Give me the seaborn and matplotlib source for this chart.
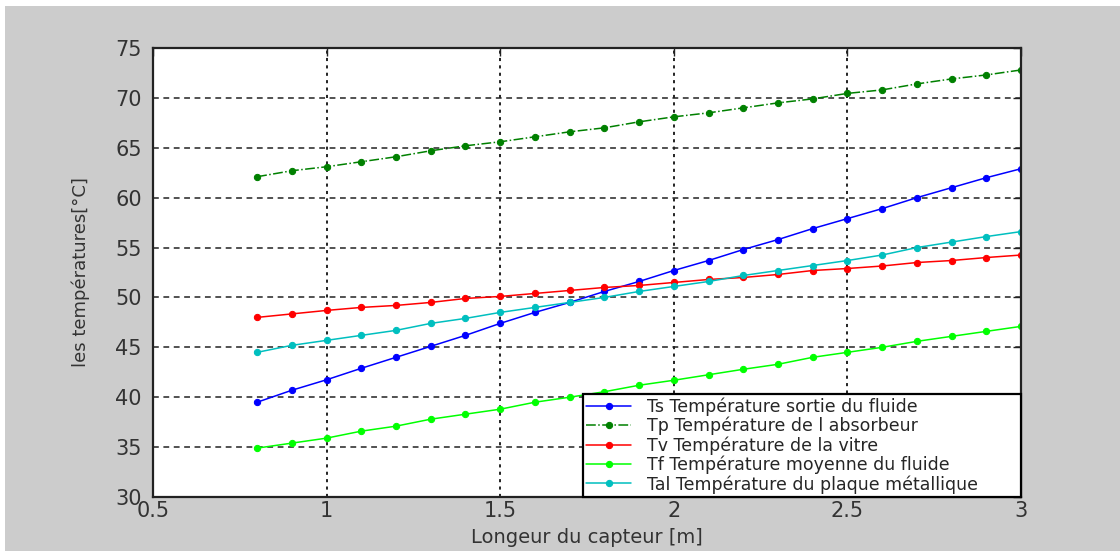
import numpy as np
import pandas as pd
import matplotlib
matplotlib.use("Agg")
import matplotlib.pyplot as plt
from matplotlib.patches import Rectangle
import seaborn as sns

# Collector length [m]
longueur = [0.8, 0.9, 1.0, 1.1, 1.2, 1.3, 1.4, 1.5, 1.6, 1.7, 1.8, 1.9,
            2.0, 2.1, 2.2, 2.3, 2.4, 2.5, 2.6, 2.7, 2.8, 2.9, 3.0]

# Temperatures [°C]
ts = [39.5, 40.7, 41.75, 42.9, 44.0, 45.1, 46.2, 47.4, 48.5, 49.5, 50.6, 51.6,
      52.7, 53.7, 54.8, 55.8, 56.9, 57.9, 58.9, 60.0, 61.0, 62.0, 62.9]
tp = [62.1, 62.7, 63.1, 63.6, 64.1, 64.7, 65.2, 65.6, 66.1, 66.6, 67.0, 67.6,
      68.1, 68.5, 69.0, 69.5, 69.9, 70.45, 70.8, 71.4, 71.9, 72.3, 72.8]
tv = [48.0, 48.35, 48.7, 49.0, 49.2, 49.5, 49.9, 50.1, 50.4, 50.7, 51.0, 51.2,
      51.5, 51.8, 52.0, 52.3, 52.7, 52.9, 53.15, 53.5, 53.7, 54.0, 54.25]
tf = [34.9, 35.4, 35.9, 36.6, 37.1, 37.8, 38.3, 38.8, 39.5, 40.0, 40.55, 41.2,
      41.7, 42.25, 42.8, 43.3, 44.0, 44.5, 45.0, 45.6, 46.1, 46.6, 47.1]
tal = [44.5, 45.2, 45.7, 46.2, 46.7, 47.4, 47.9, 48.5, 49.0, 49.5, 50.0, 50.6,
       51.1, 51.6, 52.2, 52.7, 53.2, 53.7, 54.25, 55.0, 55.55, 56.1, 56.6]

labels = ["Ts Température sortie du fluide",
          "Tp Température de l absorbeur",
          "Tv Température de la vitre",
          "Tf Température moyenne du fluide",
          "Tal Température du plaque métallique"]
series = [ts, tp, tv, tf, tal]
colors = ["#0000ff", "#008000", "#ff0000", "#00ff00", "#00bfbf"]
styles = ["-", "-.", "-", "-", "-"]

xticks = [0.5, 1, 1.5, 2, 2.5, 3]
xticklabels = ["0.5", "1", "1.5", "2", "2.5", "3"]
yticks = [30, 35, 40, 45, 50, 55, 60, 65, 70, 75]

sns.set_theme(style="white")
plt.rcParams["font.family"] = ["DejaVu Sans"]

fig = plt.figure(figsize=(11.2, 5.51), dpi=100)
fig.patch.set_facecolor("white")
fig.patches.append(Rectangle((5 / 1120, 0), 1, 1 - 6 / 551,
                             transform=fig.transFigure, facecolor="#cccccc",
                             edgecolor="none", zorder=-10))

ax = fig.add_axes([153 / 1120, 1 - 497 / 551, (1021 - 153) / 1120, (497 - 48) / 551])
ax.set_facecolor("white")

for vals, lab, col, ls in zip(series, labels, colors, styles):
    df = pd.DataFrame({"x": longueur, "y": vals})
    sns.lineplot(data=df, x="x", y="y", ax=ax, color=col, linestyle=ls,
                 linewidth=1.1, marker="o", markersize=4.5,
                 markeredgecolor=col, markerfacecolor=col, label=lab)

ax.set_xlim(0.5, 3)
ax.set_ylim(30, 75)
ax.set_xticks(xticks)
ax.set_xticklabels(xticklabels)
ax.set_yticks(yticks)

# Grid: dotted verticals, dashed horizontals
for xv in xticks[1:-1]:
    ax.axvline(xv, color="#222222", linestyle=(0, (1.6, 2.2)), linewidth=1.4, zorder=0.5)
for yv in yticks[1:-1]:
    ax.axhline(yv, color="#222222", linestyle=(0, (3.8, 3.0)), linewidth=1.1, zorder=0.5)

for s in ax.spines.values():
    s.set_visible(True)
    s.set_color("#222222")
    s.set_linewidth(1.6)

ax.tick_params(axis="both", direction="in", length=6, width=1, colors="#222222",
               labelsize=15, top=True, right=True, labelcolor="#333333")
ax.tick_params(axis="y", pad=8)
ax.tick_params(axis="x", pad=3)

ax.set_xlabel("Longeur du capteur [m]", fontsize=14, color="#333333", labelpad=5)
ax.set_ylabel("les températures[°C]", fontsize=13, color="#333333", labelpad=18)

leg = ax.legend(loc="lower left", bbox_to_anchor=(0.495, 0.0, 0.505, 0.2),
                mode="expand", fontsize=12.5, frameon=True, fancybox=False,
                edgecolor="black", framealpha=1, borderaxespad=0,
                handlelength=2.6, labelspacing=0.05, borderpad=0.2,
                handletextpad=0.9)
leg.get_frame().set_linewidth(1.6)

fig.savefig("out.png", dpi=100, facecolor=fig.get_facecolor())
